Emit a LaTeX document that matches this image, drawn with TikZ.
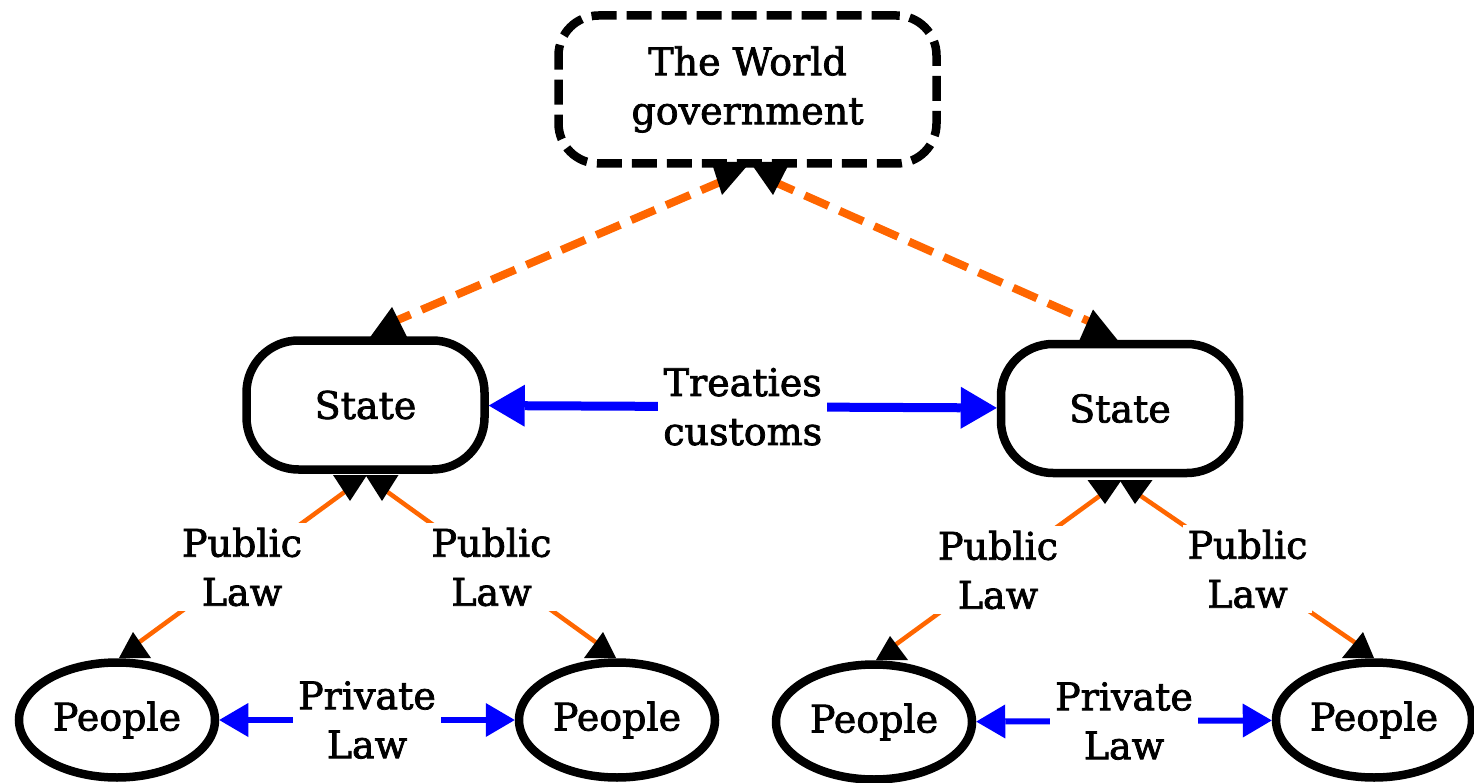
\documentclass[tikz,border=0pt]{standalone}
\usepackage{fontspec}
\setmainfont{DejaVu Serif}[FakeBold=2]
\usetikzlibrary{arrows.meta,calc,shapes.geometric}
\definecolor{edgeorange}{RGB}{255,102,0}
\newcommand\headtri[4]{%
  \fill ($(#1.center)+(#2)+(-#4,0)$) -- ($(#1.center)+(#2)+(#4,0)$) -- ($(#1.center)+(#3)$) -- cycle;}
\begin{document}
\begin{tikzpicture}[x=1pt,y=-1pt,
  txt/.style={font=\fontsize{38}{49}\selectfont, align=center, text=black},
  govbox/.style={txt, draw, line width=8.5pt, dash pattern=on 25pt off 10pt, rounded corners=40pt, minimum width=378pt, minimum height=148pt, inner sep=0pt},
  statebox/.style={txt, draw, line width=8.5pt, rounded corners=52pt, minimum width=238pt, minimum height=129pt, inner sep=0pt},
  peoplebox/.style={txt, draw, ellipse, line width=8.5pt, minimum width=196pt, minimum height=115pt, inner sep=0pt},
  lbl/.style={txt, fill=white, inner sep=5pt},
  govedge/.style={edgeorange, line width=8pt, dash pattern=on 26pt off 12pt},
  lawedge/.style={edgeorange, line width=4.5pt},
  treatyedge/.style={blue, line width=9pt, {Triangle[length=36pt,width=42pt,line width=0pt]}-{Triangle[length=36pt,width=42pt,line width=0pt]}},
  privedge/.style={blue, line width=6pt, {Triangle[length=29pt,width=34pt,line width=0pt]}-{Triangle[length=29pt,width=34pt,line width=0pt]}},
]
\useasboundingbox (0,0) rectangle (1474,783);

% nodes
\node[govbox] (wg) at (747.5,89.5) {The World\\government};
\node[statebox] (ls) at (365.5,405) {State};
\node[statebox] (rs) at (1120,408.5) {State};
\node[peoplebox] (p1) at (117,720) {People};
\node[peoplebox] (p2) at (617,720) {People};
\node[peoplebox] (p3) at (874,722) {People};
\node[peoplebox] (p4) at (1374,720) {People};

% world government -- states
\draw[govedge] ($(wg.center)+(-22.5,90.5)$) -- ($(ls.center)+(27.5,-83)$);
\draw[govedge] ($(wg.center)+(22.5,90.5)$) -- ($(rs.center)+(-25,-84.5)$);
\headtri{wg}{-16.5,72.5}{-25.5,105.5}{19.5}
\headtri{wg}{22.5,72.5}{25.5,105.5}{20}
\headtri{ls}{23,-67}{26.5,-98}{19}
\headtri{rs}{-21.5,-68.5}{-27,-99}{19}

% treaties
\draw[treatyedge] (ls) -- node[lbl]{Treaties\\customs} (rs);

% public law
\draw[lawedge] ($(ls.center)+(-15.5,83)$) -- node[lbl]{Public\\Law} ($(p1.center)+(17,-74)$);
\draw[lawedge] ($(ls.center)+(16.5,83)$) -- node[lbl]{Public\\Law} ($(p2.center)+(-16,-74)$);
\draw[lawedge] ($(rs.center)+(-15,83.5)$) -- node[lbl]{Public\\Law} ($(p3.center)+(17,-74)$);
\draw[lawedge] ($(rs.center)+(15,83.5)$) -- node[lbl]{Public\\Law} ($(p4.center)+(-14,-74)$);
\headtri{ls}{-15.5,70}{-15.5,96}{17}
\headtri{ls}{16.5,70}{16.5,96}{16.5}
\headtri{rs}{-15.5,71.5}{-15,95.5}{17}
\headtri{rs}{16,71.5}{15,95.5}{16.5}
\headtri{p1}{18,-62}{16,-88}{16}
\headtri{p2}{-17,-62}{-14,-88}{16}
\headtri{p3}{18,-62}{16,-86}{16}
\headtri{p4}{-16,-62}{-11,-88}{16}

% private law
\draw[privedge] (p1) -- node[lbl]{Private\\Law} (p2);
\draw[privedge] (p3) -- node[lbl]{Private\\Law} (p4);
\end{tikzpicture}
\end{document}
